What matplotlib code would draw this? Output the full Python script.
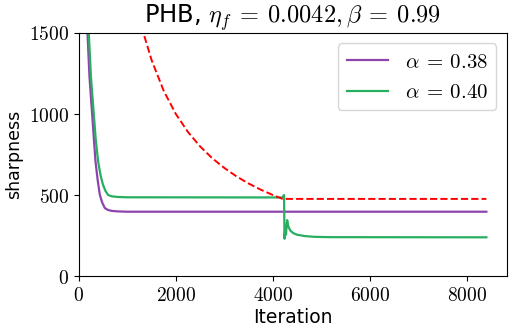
import matplotlib
matplotlib.use("Agg")
from matplotlib import pyplot as plt
from matplotlib.ticker import FuncFormatter

plt.rcParams['mathtext.fontset'] = 'cm'
plt.rcParams['font.family'] = ['DejaVu Sans']

# sharpness, alpha = 0.38
it_a = [60, 100, 140, 179, 220, 275, 310, 344, 390, 433, 480, 536, 600, 680, 800, 1000, 8400]
sh_a = [3600, 2700, 2000, 1500, 1230, 1000, 850, 708, 590, 502, 455, 420, 408, 402, 399, 397, 397]

# sharpness, alpha = 0.40
it_b = [60, 100, 150, 206, 250, 309, 350, 398, 450, 500, 550, 605, 680, 800, 1000, 4200,
        4230, 4240, 4255, 4270, 4285, 4295, 4320, 4360, 4420, 4500, 4650, 4850, 5200, 8400]
sh_b = [3800, 2900, 2100, 1500, 1230, 1000, 840, 708, 620, 562, 525, 500, 492, 488, 486, 485,
        500, 230, 300, 255, 320, 345, 305, 280, 265, 255, 247, 242, 240, 239]

# stability threshold 2 / eta
it_c = [1200, 1340, 1500, 1750, 2000, 2250, 2500, 2750, 3000, 3250, 3500, 3750, 4000, 4200, 8400]
th_c = [1667, 1492, 1333, 1143, 1000, 889, 800, 727, 667, 615, 571, 533, 500, 476, 476]

fig, ax = plt.subplots(figsize=(5.15, 3.35), dpi=100)
fig.subplots_adjust(left=0.153, right=0.984, top=0.9015, bottom=0.176)

ax.plot(it_a, sh_a, color='#8e44ad', lw=1.6, label=r'$\alpha\:=\:0.38$')
ax.plot(it_b, sh_b, color='#27ae60', lw=1.6, label=r'$\alpha\:=\:0.40$')
ax.plot(it_c, th_c, '--', color='red', lw=1.4)

ax.set_xlim(0, 8820)
ax.set_ylim(0, 1500)
ax.set_xticks([0, 2000, 4000, 6000, 8000])
ax.set_yticks([0, 500, 1000, 1500])
fmt = FuncFormatter(lambda v, p: r'$%d$' % v)
ax.xaxis.set_major_formatter(fmt)
ax.yaxis.set_major_formatter(fmt)
ax.tick_params(labelsize=14)

ax.set_title(r'PHB, $\eta_f\:=\:0.0042, \beta\:=\:0.99$', fontsize=17.5, pad=5)
ax.set_xlabel('Iteration', fontsize=13.5, labelpad=2)
ax.set_ylabel('sharpness', fontsize=12.5, labelpad=4)
ax.legend(loc='upper right', fontsize=15)

fig.savefig('out.png', dpi=100)
